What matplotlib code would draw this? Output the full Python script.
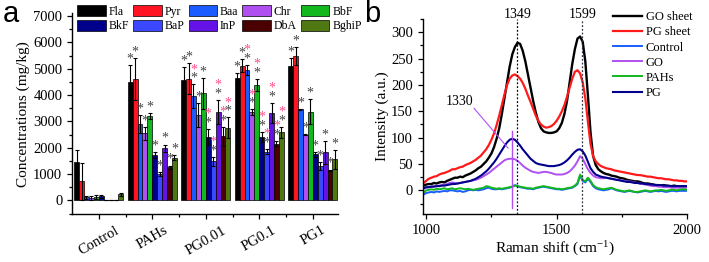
import numpy as np
import matplotlib
matplotlib.use('Agg')
import matplotlib.pyplot as plt
from matplotlib.ticker import MultipleLocator, FixedLocator

plt.rcParams['font.family'] = ['Liberation Serif', 'DejaVu Serif']
plt.rcParams['mathtext.fontset'] = 'stix'

# ---- panel a data ----
groups = ['Control', 'PAHs', 'PG0.01', 'PG0.1', 'PG1']
compounds = ['Fla', 'Pyr', 'Baa', 'Chr', 'BbF', 'BkF', 'BaP', 'InP', 'DbA', 'BghiP']
colors = ['#000000', '#ff1424', '#1a5cff', '#b050f0', '#12b81e',
          '#00008c', '#3a48ff', '#6412e6', '#4a0000', '#4f7812']

control_mean = [1450, 720, 110, 90, 130, 150, 10, 10, 10, 230]
control_err = [450, 700, 70, 80, 90, 60, 10, 10, 10, 60]
pahs_mean = [4480, 4600, 2900, 2550, 3200, 1720, 1000, 1980, 1250, 1620]
pahs_err = [670, 800, 350, 250, 120, 110, 80, 140, 70, 100]
pg001_mean = [4560, 4620, 3960, 3250, 4060, 2400, 1480, 3350, 2430, 2750]
pg001_err = [490, 580, 440, 450, 590, 300, 170, 450, 370, 400]
pg01_mean = [4650, 5120, 4950, 3340, 4380, 2400, 1850, 3320, 2150, 2580]
pg01_err = [200, 230, 200, 110, 240, 200, 100, 380, 100, 220]
pg1_mean = [5100, 5480, 3450, 2500, 3370, 1750, 1300, 1820, 1150, 1560]
pg1_err = [300, 340, 20, 20, 480, 100, 150, 440, 20, 360]

# significance marks (grey star for every treated group, pink star where flagged)
grey_star = [0, 1, 1, 1, 1]
pink_pg001 = [0, 0, 1, 0, 0, 1, 1, 1, 1, 1]
pink_pg01 = [0, 0, 1, 1, 1, 1, 1, 1, 1, 1]

means = np.array([control_mean, pahs_mean, pg001_mean, pg01_mean, pg1_mean])
errs = np.array([control_err, pahs_err, pg001_err, pg01_err, pg1_err])
pinks = np.array([[0] * 10, [0] * 10, pink_pg001, pink_pg01, [0] * 10])

# ---- panel b data ----
raman_shift = np.arange(990, 2001, 10)
go_sheet = [9, 11, 12, 12, 14, 13, 15, 16, 15, 18,
            20, 22, 24, 24, 26, 25, 28, 30, 32, 35,
            38, 42, 45, 50, 55, 62, 70, 82, 98, 118,
            145, 175, 205, 235, 258, 272, 280, 278, 265, 245,
            220, 195, 170, 148, 130, 118, 112, 110, 109, 109,
            110, 112, 118, 128, 145, 170, 205, 240, 268, 288,
            292, 282, 245, 180, 110, 65, 48, 40, 36, 33,
            31, 30, 28, 27, 26, 24, 23, 22, 20, 19,
            18, 17, 17, 16, 14, 13, 13, 12, 11, 10,
            10, 9, 10, 9, 8, 8, 9, 8, 7, 8,
            7, 7]
pg_sheet = [14, 18, 22, 24, 26, 27, 30, 32, 33, 35,
            37, 40, 40, 42, 44, 45, 48, 50, 52, 55,
            58, 62, 66, 72, 78, 86, 96, 108, 124, 142,
            162, 182, 200, 212, 218, 220, 217, 212, 204, 193,
            180, 168, 155, 142, 132, 125, 121, 119, 120, 122,
            126, 132, 140, 150, 162, 178, 195, 212, 225, 228,
            222, 205, 175, 130, 88, 65, 55, 50, 46, 44,
            42, 41, 40, 38, 37, 36, 35, 34, 33, 32,
            31, 30, 29, 29, 28, 27, 26, 26, 25, 24,
            23, 23, 22, 21, 21, 20, 19, 19, 18, 18,
            17, 17]
control_spec = [-8, -5, -4, -3, -4, -2, -3, -2, -1, -2,
                0, 0, -1, -2, -1, -3, -2, 0, 1, 0,
                1, 0, 1, 2, 4, 5, 3, 2, 2, 3,
                2, 3, 4, 5, 7, 10, 8, 6, 5, 4,
                3, 3, 2, 4, 5, 6, 7, 6, 5, 4,
                3, 2, 2, 1, 2, 3, 4, 5, 8, 12,
                28, 18, 15, 22, 16, 8, 4, 2, 1, 0,
                1, 2, 4, 2, 0, -1, -2, -3, -2, -1,
                -2, -3, -4, -3, -2, -1, -2, -3, -2, -1,
                -2, -1, -2, -3, -2, -1, -1, -2, -1, -1,
                -1, -1]
go_spec = [3, 5, 6, 7, 8, 8, 9, 10, 11, 12,
           14, 15, 14, 13, 14, 15, 16, 17, 18, 19,
           20, 22, 24, 27, 30, 33, 37, 41, 45, 49,
           53, 57, 59, 60, 60, 59, 56, 52, 47, 43,
           40, 37, 35, 34, 33, 34, 35, 35, 34, 33,
           31, 30, 30, 30, 31, 33, 36, 41, 47, 55,
           65, 60, 50, 40, 33, 28, 25, 24, 23, 23,
           24, 23, 22, 21, 20, 20, 19, 18, 17, 17,
           16, 15, 14, 13, 12, 11, 10, 9, 8, 8,
           7, 7, 6, 6, 6, 5, 5, 5, 5, 5,
           5, 5]
pahs_spec = [-4, 0, 1, 2, 1, 3, 2, 3, 4, 2,
             3, 4, 2, 3, 4, 3, 2, 3, 2, 1,
             2, 3, 4, 5, 8, 7, 5, 4, 3, 4,
             3, 4, 5, 6, 7, 9, 8, 7, 6, 5,
             4, 4, 3, 5, 6, 7, 8, 7, 6, 5,
             4, 3, 3, 2, 3, 4, 5, 6, 9, 14,
             30, 20, 17, 24, 18, 10, 6, 4, 3, 2,
             3, 4, 5, 3, 1, 0, -1, -2, -1, 0,
             -2, -3, -3, -2, -1, 0, -1, -2, -1, 0,
             0, 1, 0, -1, 0, 1, 1, 0, 1, 2,
             2, 1]
pg_spec = [4, 6, 6, 7, 7, 8, 8, 9, 9, 10,
           11, 12, 12, 13, 14, 15, 16, 17, 18, 20,
           22, 25, 28, 32, 36, 41, 47, 53, 60, 68,
           76, 84, 91, 96, 98, 96, 91, 85, 78, 72,
           66, 60, 56, 52, 50, 49, 48, 47, 46, 46,
           46, 47, 48, 50, 53, 57, 62, 68, 73, 77,
           78, 74, 66, 54, 42, 35, 30, 28, 26, 25,
           24, 23, 22, 21, 20, 19, 18, 17, 16, 16,
           15, 14, 14, 13, 13, 12, 12, 11, 11, 10,
           10, 10, 9, 9, 9, 8, 8, 8, 8, 8,
           8, 8]

fig = plt.figure(figsize=(7.09, 2.62), dpi=100)

# ================= panel a =================
ax = fig.add_axes([0.1016, 0.183, 0.375, 0.766])
n = len(compounds)
bw = 0.092
x = np.arange(len(groups))
handles = []
for j in range(n):
    pos = x + (j - (n - 1) / 2) * bw
    b = ax.bar(pos, means[:, j], bw, color=colors[j], edgecolor='black', linewidth=0.5,
               yerr=errs[:, j], capsize=1.3, error_kw=dict(elinewidth=0.8, capthick=0.8, ecolor='black'),
               label=compounds[j])
    handles.append(b)
    for g in range(len(groups)):
        top = means[g, j] + errs[g, j]
        if grey_star[g]:
            ax.text(pos[g], top + 230, '*', color='#444444', fontsize=10, ha='center', va='center')
        if pinks[g, j]:
            ax.text(pos[g], top + 560, '*', color='#ff4d8d', fontsize=10, ha='center', va='center')

ax.set_xlim(-0.5, 4.47)
ax.set_ylim(-520, 7100)
ax.spines['top'].set_visible(False)
ax.spines['right'].set_visible(False)
ax.yaxis.set_major_locator(MultipleLocator(1000))
ax.yaxis.set_minor_locator(MultipleLocator(500))
ax.set_xticks(x)
ax.set_xticklabels(groups, rotation=30, fontsize=10.5)
ax.xaxis.set_minor_locator(FixedLocator(x[:-1] + 0.5))
ax.tick_params(axis='both', which='major', direction='out', length=3.5, width=0.9, labelsize=10.5)
ax.tick_params(axis='both', which='minor', direction='out', length=2, width=0.9)
ax.set_ylabel('Concentrations (mg/kg)', fontsize=11, labelpad=2)
for s in ax.spines.values():
    s.set_linewidth(1.0)

order = [0, 5, 1, 6, 2, 7, 3, 8, 4, 9]
ax.legend([handles[i] for i in order], [compounds[i] for i in order], ncol=5,
          loc='upper left', bbox_to_anchor=(0.02, 1.04), frameon=False, fontsize=8.5,
          handlelength=2.4, handleheight=1.0, handletextpad=0.25, columnspacing=0.35,
          labelspacing=0.2, borderpad=0, borderaxespad=0)

fig.text(0.004, 1.0, 'a', fontsize=21, family='Liberation Sans', va='top', ha='left')

# ================= panel b =================
bx = fig.add_axes([0.596, 0.183, 0.373, 0.744])
bx.plot(raman_shift, go_sheet, color='black', lw=1.7, label='GO sheet')
bx.plot(raman_shift, pg_sheet, color='#ff1a1a', lw=1.6, label='PG sheet')
bx.plot(raman_shift, control_spec, color='#1a5cff', lw=1.4, label='Control')
bx.plot(raman_shift, go_spec, color='#b050f0', lw=1.4, label='GO')
bx.plot(raman_shift, pahs_spec, color='#12b81e', lw=1.4, label='PAHs')
bx.plot(raman_shift, pg_spec, color='#00008c', lw=1.5, label='PG')

bx.plot([1349, 1349], [95, 325], color='black', lw=0.9, ls=(0, (1.5, 1.5)), clip_on=False)
bx.plot([1349, 1349], [-45, 95], color='#00008c', lw=0.9, ls=(0, (1.5, 1.5)))
bx.plot([1599, 1599], [-45, 325], color='#333344', lw=0.9, ls=(0, (1.5, 1.5)), clip_on=False)
bx.plot([1330, 1330], [-33, 112], color='#b050f0', lw=1.0)
bx.annotate('', xy=(1321, 76), xytext=(1176, 160),
            arrowprops=dict(arrowstyle='-', color='#b050f0', lw=0.8))
bx.text(1129, 168, '1330', fontsize=10, ha='center', va='center')
bx.text(1349, 333, '1349', fontsize=10, ha='center', va='center')
bx.text(1599, 333, '1599', fontsize=10, ha='center', va='center')

bx.set_xlim(986, 2000)
bx.set_ylim(-45, 325)
bx.spines['top'].set_visible(False)
bx.spines['right'].set_visible(False)
bx.xaxis.set_major_locator(MultipleLocator(500))
bx.xaxis.set_minor_locator(MultipleLocator(250))
bx.yaxis.set_major_locator(MultipleLocator(50))
bx.yaxis.set_minor_locator(MultipleLocator(25))
bx.set_yticks([0, 50, 100, 150, 200, 250, 300])
bx.tick_params(axis='both', which='major', direction='out', length=3.5, width=0.9, labelsize=10.5)
bx.tick_params(axis='both', which='minor', direction='out', length=2, width=0.9)
bx.set_xlabel('Raman shift (cm$^{\\mathregular{-1}}$)', fontsize=11, labelpad=1)
bx.set_ylabel('Intensity (a.u.)', fontsize=11, labelpad=1)
for s in bx.spines.values():
    s.set_linewidth(1.0)

bx.legend(loc='upper right', bbox_to_anchor=(1.02, 1.04), frameon=False, fontsize=9,
          handlelength=2.3, handletextpad=0.3, labelspacing=0.25, borderpad=0, borderaxespad=0)

fig.text(0.513, 1.0, 'b', fontsize=21, family='Liberation Sans', va='top', ha='left')

fig.savefig('out.png', dpi=100)
